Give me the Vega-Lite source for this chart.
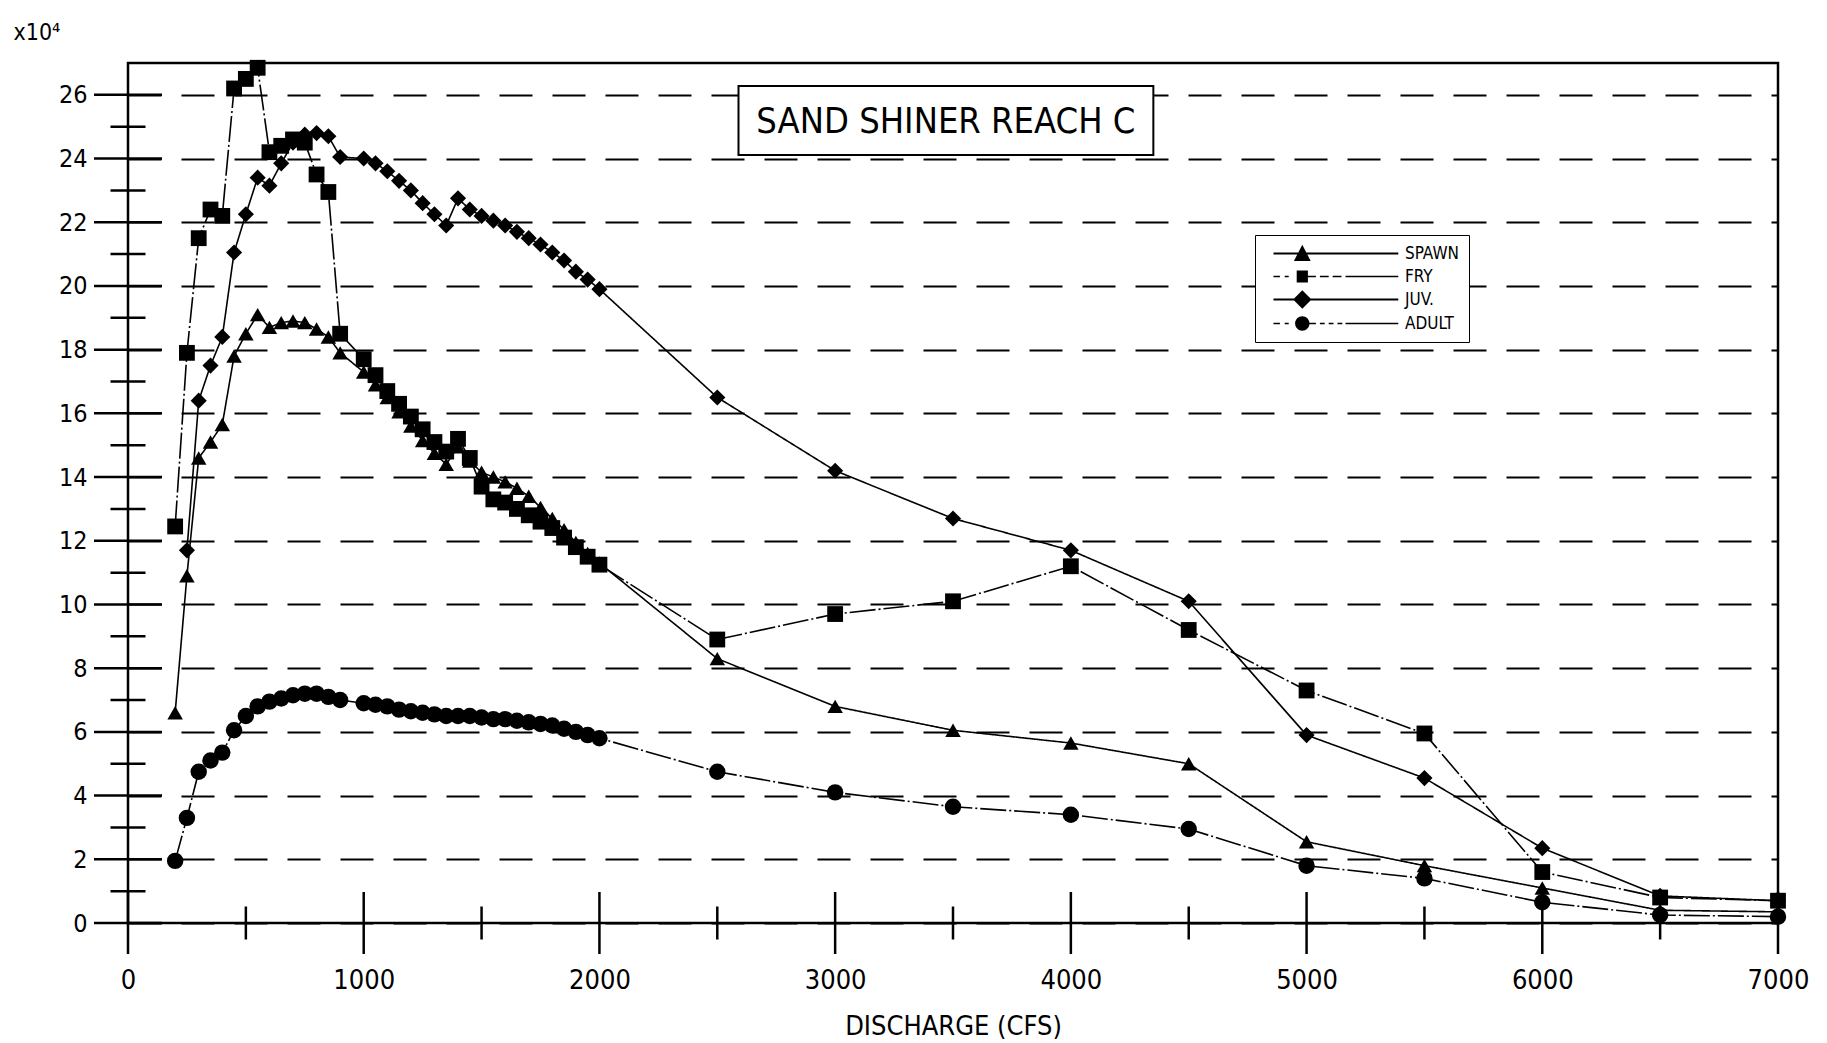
{
  "$schema": "https://vega.github.io/schema/vega-lite/v6.json",
  "width": 1650,
  "height": 860,
  "autosize": {"type": "none"},
  "padding": {"left": 128, "top": 63, "right": 49, "bottom": 120},
  "background": "white",
  "config": {
    "view": {"stroke": "black", "strokeWidth": 2.5},
    "font": "DejaVu Sans Condensed, Liberation Sans Narrow, Liberation Sans, sans-serif"
  },
  "datasets": {
    "ymajor": [{"t": 0}, {"t": 2}, {"t": 4}, {"t": 6}, {"t": 8}, {"t": 10}, {"t": 12}, {"t": 14}, {"t": 16}, {"t": 18}, {"t": 20}, {"t": 22}, {"t": 24}, {"t": 26}],
    "yminor": [{"t": 1}, {"t": 3}, {"t": 5}, {"t": 7}, {"t": 9}, {"t": 11}, {"t": 13}, {"t": 15}, {"t": 17}, {"t": 19}, {"t": 21}, {"t": 23}, {"t": 25}],
    "xmajor": [{"t": 0}, {"t": 1000}, {"t": 2000}, {"t": 3000}, {"t": 4000}, {"t": 5000}, {"t": 6000}, {"t": 7000}],
    "xminor": [{"t": 500}, {"t": 1500}, {"t": 2500}, {"t": 3500}, {"t": 4500}, {"t": 5500}, {"t": 6500}],
    "fish": [
      {"series": "SPAWN", "q": 200, "v": 6.6},
      {"series": "SPAWN", "q": 250, "v": 10.9},
      {"series": "SPAWN", "q": 300, "v": 14.6},
      {"series": "SPAWN", "q": 350, "v": 15.1},
      {"series": "SPAWN", "q": 400, "v": 15.65},
      {"series": "SPAWN", "q": 450, "v": 17.8},
      {"series": "SPAWN", "q": 500, "v": 18.5},
      {"series": "SPAWN", "q": 550, "v": 19.1},
      {"series": "SPAWN", "q": 600, "v": 18.7},
      {"series": "SPAWN", "q": 650, "v": 18.85},
      {"series": "SPAWN", "q": 700, "v": 18.9},
      {"series": "SPAWN", "q": 750, "v": 18.85},
      {"series": "SPAWN", "q": 800, "v": 18.65},
      {"series": "SPAWN", "q": 850, "v": 18.4},
      {"series": "SPAWN", "q": 900, "v": 17.9},
      {"series": "SPAWN", "q": 1000, "v": 17.3},
      {"series": "SPAWN", "q": 1050, "v": 16.9},
      {"series": "SPAWN", "q": 1100, "v": 16.5},
      {"series": "SPAWN", "q": 1150, "v": 16.05},
      {"series": "SPAWN", "q": 1200, "v": 15.6},
      {"series": "SPAWN", "q": 1250, "v": 15.15},
      {"series": "SPAWN", "q": 1300, "v": 14.75},
      {"series": "SPAWN", "q": 1350, "v": 14.4},
      {"series": "SPAWN", "q": 1400, "v": 14.95},
      {"series": "SPAWN", "q": 1450, "v": 14.5},
      {"series": "SPAWN", "q": 1500, "v": 14.15},
      {"series": "SPAWN", "q": 1550, "v": 14.0},
      {"series": "SPAWN", "q": 1600, "v": 13.85},
      {"series": "SPAWN", "q": 1650, "v": 13.65},
      {"series": "SPAWN", "q": 1700, "v": 13.4},
      {"series": "SPAWN", "q": 1750, "v": 13.05},
      {"series": "SPAWN", "q": 1800, "v": 12.7},
      {"series": "SPAWN", "q": 1850, "v": 12.35},
      {"series": "SPAWN", "q": 1900, "v": 11.95},
      {"series": "SPAWN", "q": 1950, "v": 11.6},
      {"series": "SPAWN", "q": 2000, "v": 11.3},
      {"series": "SPAWN", "q": 2500, "v": 8.3},
      {"series": "SPAWN", "q": 3000, "v": 6.8},
      {"series": "SPAWN", "q": 3500, "v": 6.05},
      {"series": "SPAWN", "q": 4000, "v": 5.65},
      {"series": "SPAWN", "q": 4500, "v": 5.0},
      {"series": "SPAWN", "q": 5000, "v": 2.55},
      {"series": "SPAWN", "q": 5500, "v": 1.8},
      {"series": "SPAWN", "q": 6000, "v": 1.1},
      {"series": "SPAWN", "q": 6500, "v": 0.4},
      {"series": "SPAWN", "q": 7000, "v": 0.35},
      {"series": "FRY", "q": 200, "v": 12.45},
      {"series": "FRY", "q": 250, "v": 17.9},
      {"series": "FRY", "q": 300, "v": 21.5},
      {"series": "FRY", "q": 350, "v": 22.4},
      {"series": "FRY", "q": 400, "v": 22.2},
      {"series": "FRY", "q": 450, "v": 26.2},
      {"series": "FRY", "q": 500, "v": 26.5},
      {"series": "FRY", "q": 550, "v": 26.85},
      {"series": "FRY", "q": 600, "v": 24.2},
      {"series": "FRY", "q": 650, "v": 24.4},
      {"series": "FRY", "q": 700, "v": 24.6},
      {"series": "FRY", "q": 750, "v": 24.5},
      {"series": "FRY", "q": 800, "v": 23.5},
      {"series": "FRY", "q": 850, "v": 22.95},
      {"series": "FRY", "q": 900, "v": 18.5},
      {"series": "FRY", "q": 1000, "v": 17.7},
      {"series": "FRY", "q": 1050, "v": 17.2},
      {"series": "FRY", "q": 1100, "v": 16.7},
      {"series": "FRY", "q": 1150, "v": 16.3},
      {"series": "FRY", "q": 1200, "v": 15.9},
      {"series": "FRY", "q": 1250, "v": 15.5},
      {"series": "FRY", "q": 1300, "v": 15.1},
      {"series": "FRY", "q": 1350, "v": 14.8},
      {"series": "FRY", "q": 1400, "v": 15.2},
      {"series": "FRY", "q": 1450, "v": 14.6},
      {"series": "FRY", "q": 1500, "v": 13.7},
      {"series": "FRY", "q": 1550, "v": 13.3},
      {"series": "FRY", "q": 1600, "v": 13.2},
      {"series": "FRY", "q": 1650, "v": 13.0},
      {"series": "FRY", "q": 1700, "v": 12.8},
      {"series": "FRY", "q": 1750, "v": 12.6},
      {"series": "FRY", "q": 1800, "v": 12.4},
      {"series": "FRY", "q": 1850, "v": 12.1},
      {"series": "FRY", "q": 1900, "v": 11.8},
      {"series": "FRY", "q": 1950, "v": 11.5},
      {"series": "FRY", "q": 2000, "v": 11.25},
      {"series": "FRY", "q": 2500, "v": 8.9},
      {"series": "FRY", "q": 3000, "v": 9.7},
      {"series": "FRY", "q": 3500, "v": 10.1},
      {"series": "FRY", "q": 4000, "v": 11.2},
      {"series": "FRY", "q": 4500, "v": 9.2},
      {"series": "FRY", "q": 5000, "v": 7.3},
      {"series": "FRY", "q": 5500, "v": 5.95},
      {"series": "FRY", "q": 6000, "v": 1.6},
      {"series": "FRY", "q": 6500, "v": 0.8},
      {"series": "FRY", "q": 7000, "v": 0.7},
      {"series": "JUV.", "q": 250, "v": 11.7},
      {"series": "JUV.", "q": 300, "v": 16.4},
      {"series": "JUV.", "q": 350, "v": 17.5},
      {"series": "JUV.", "q": 400, "v": 18.4},
      {"series": "JUV.", "q": 450, "v": 21.05},
      {"series": "JUV.", "q": 500, "v": 22.25},
      {"series": "JUV.", "q": 550, "v": 23.4},
      {"series": "JUV.", "q": 600, "v": 23.15},
      {"series": "JUV.", "q": 650, "v": 23.85},
      {"series": "JUV.", "q": 700, "v": 24.5},
      {"series": "JUV.", "q": 750, "v": 24.75},
      {"series": "JUV.", "q": 800, "v": 24.8},
      {"series": "JUV.", "q": 850, "v": 24.7},
      {"series": "JUV.", "q": 900, "v": 24.05},
      {"series": "JUV.", "q": 1000, "v": 24.0},
      {"series": "JUV.", "q": 1050, "v": 23.85},
      {"series": "JUV.", "q": 1100, "v": 23.6},
      {"series": "JUV.", "q": 1150, "v": 23.3},
      {"series": "JUV.", "q": 1200, "v": 23.0},
      {"series": "JUV.", "q": 1250, "v": 22.6},
      {"series": "JUV.", "q": 1300, "v": 22.25},
      {"series": "JUV.", "q": 1350, "v": 21.9},
      {"series": "JUV.", "q": 1400, "v": 22.75},
      {"series": "JUV.", "q": 1450, "v": 22.4},
      {"series": "JUV.", "q": 1500, "v": 22.2},
      {"series": "JUV.", "q": 1550, "v": 22.05},
      {"series": "JUV.", "q": 1600, "v": 21.9},
      {"series": "JUV.", "q": 1650, "v": 21.7},
      {"series": "JUV.", "q": 1700, "v": 21.5},
      {"series": "JUV.", "q": 1750, "v": 21.3},
      {"series": "JUV.", "q": 1800, "v": 21.05},
      {"series": "JUV.", "q": 1850, "v": 20.8},
      {"series": "JUV.", "q": 1900, "v": 20.45},
      {"series": "JUV.", "q": 1950, "v": 20.2},
      {"series": "JUV.", "q": 2000, "v": 19.9},
      {"series": "JUV.", "q": 2500, "v": 16.5},
      {"series": "JUV.", "q": 3000, "v": 14.2},
      {"series": "JUV.", "q": 3500, "v": 12.7},
      {"series": "JUV.", "q": 4000, "v": 11.7},
      {"series": "JUV.", "q": 4500, "v": 10.1},
      {"series": "JUV.", "q": 5000, "v": 5.9},
      {"series": "JUV.", "q": 5500, "v": 4.55},
      {"series": "JUV.", "q": 6000, "v": 2.35},
      {"series": "JUV.", "q": 6500, "v": 0.85},
      {"series": "JUV.", "q": 7000, "v": 0.7},
      {"series": "ADULT", "q": 200, "v": 1.95},
      {"series": "ADULT", "q": 250, "v": 3.3},
      {"series": "ADULT", "q": 300, "v": 4.75},
      {"series": "ADULT", "q": 350, "v": 5.1},
      {"series": "ADULT", "q": 400, "v": 5.35},
      {"series": "ADULT", "q": 450, "v": 6.05},
      {"series": "ADULT", "q": 500, "v": 6.5},
      {"series": "ADULT", "q": 550, "v": 6.8},
      {"series": "ADULT", "q": 600, "v": 6.95},
      {"series": "ADULT", "q": 650, "v": 7.05},
      {"series": "ADULT", "q": 700, "v": 7.15},
      {"series": "ADULT", "q": 750, "v": 7.2},
      {"series": "ADULT", "q": 800, "v": 7.2},
      {"series": "ADULT", "q": 850, "v": 7.1},
      {"series": "ADULT", "q": 900, "v": 7.0},
      {"series": "ADULT", "q": 1000, "v": 6.9},
      {"series": "ADULT", "q": 1050, "v": 6.85},
      {"series": "ADULT", "q": 1100, "v": 6.8},
      {"series": "ADULT", "q": 1150, "v": 6.7},
      {"series": "ADULT", "q": 1200, "v": 6.65},
      {"series": "ADULT", "q": 1250, "v": 6.6},
      {"series": "ADULT", "q": 1300, "v": 6.55},
      {"series": "ADULT", "q": 1350, "v": 6.5},
      {"series": "ADULT", "q": 1400, "v": 6.5},
      {"series": "ADULT", "q": 1450, "v": 6.5},
      {"series": "ADULT", "q": 1500, "v": 6.45},
      {"series": "ADULT", "q": 1550, "v": 6.4},
      {"series": "ADULT", "q": 1600, "v": 6.4},
      {"series": "ADULT", "q": 1650, "v": 6.35},
      {"series": "ADULT", "q": 1700, "v": 6.3},
      {"series": "ADULT", "q": 1750, "v": 6.25},
      {"series": "ADULT", "q": 1800, "v": 6.2},
      {"series": "ADULT", "q": 1850, "v": 6.1},
      {"series": "ADULT", "q": 1900, "v": 6.0},
      {"series": "ADULT", "q": 1950, "v": 5.9},
      {"series": "ADULT", "q": 2000, "v": 5.8},
      {"series": "ADULT", "q": 2500, "v": 4.75},
      {"series": "ADULT", "q": 3000, "v": 4.1},
      {"series": "ADULT", "q": 3500, "v": 3.65},
      {"series": "ADULT", "q": 4000, "v": 3.4},
      {"series": "ADULT", "q": 4500, "v": 2.95},
      {"series": "ADULT", "q": 5000, "v": 1.8},
      {"series": "ADULT", "q": 5500, "v": 1.4},
      {"series": "ADULT", "q": 6000, "v": 0.65},
      {"series": "ADULT", "q": 6500, "v": 0.25},
      {"series": "ADULT", "q": 7000, "v": 0.2}
    ]
  },
  "layer": [
    {
      "data": {"name": "fish"},
      "mark": {"type": "line", "color": "black", "strokeWidth": 1.6},
      "encoding": {
        "x": {
          "field": "q", "type": "quantitative", "title": "DISCHARGE (CFS)",
          "scale": {"domain": [0, 7000], "nice": false, "zero": false},
          "axis": {
            "values": [0, 1000, 2000, 3000, 4000, 5000, 6000, 7000], "format": "d",
            "ticks": false, "domain": false, "grid": false,
            "labelFontSize": 27, "labelPadding": 44, "labelFlush": false,
            "labelOverlap": false, "labelColor": "black",
            "titleFontSize": 27, "titleFontWeight": "normal", "titleColor": "black",
            "titleY": 111, "titleBaseline": "alphabetic"
          }
        },
        "y": {
          "field": "v", "type": "quantitative", "title": "x10⁴",
          "scale": {"domain": [0, 27], "nice": false, "zero": false},
          "axis": {
            "values": [0, 2, 4, 6, 8, 10, 12, 14, 16, 18, 20, 22, 24, 26],
            "ticks": false, "domain": false,
            "grid": true, "gridColor": "black", "gridWidth": 2, "gridOpacity": 1, "gridDash": [33, 20],
            "labelFontSize": 25, "labelPadding": 41, "labelColor": "black",
            "titleAngle": 0, "titleX": -115, "titleY": -24, "titleAlign": "left",
            "titleBaseline": "alphabetic", "titleFontSize": 23, "titleFontWeight": "normal", "titleColor": "black"
          }
        },
        "strokeDash": {
          "field": "series", "type": "nominal", "legend": null,
          "scale": {"domain": ["SPAWN", "FRY", "JUV.", "ADULT"], "range": [[1, 0], [26, 3, 2, 3], [1, 0], [26, 3, 2, 3]]}
        }
      }
    },
    {
      "data": {"name": "ymajor"},
      "mark": {"type": "tick", "orient": "horizontal", "size": 68, "thickness": 2.5, "color": "black", "opacity": 1},
      "encoding": {
        "x": {"datum": 0, "type": "quantitative", "title": "DISCHARGE (CFS)", "scale": {"domain": [0, 7000], "nice": false, "zero": false}},
        "y": {"field": "t", "type": "quantitative", "title": "x10⁴", "scale": {"domain": [0, 27], "nice": false, "zero": false}}
      }
    },
    {
      "data": {"name": "yminor"},
      "mark": {"type": "tick", "orient": "horizontal", "size": 35, "thickness": 2.5, "color": "black", "opacity": 1},
      "encoding": {
        "x": {"datum": 0, "type": "quantitative", "title": "DISCHARGE (CFS)", "scale": {"domain": [0, 7000], "nice": false, "zero": false}},
        "y": {"field": "t", "type": "quantitative", "title": "x10⁴", "scale": {"domain": [0, 27], "nice": false, "zero": false}}
      }
    },
    {
      "data": {"name": "xmajor"},
      "mark": {"type": "tick", "orient": "vertical", "size": 62, "thickness": 2.5, "color": "black", "opacity": 1},
      "encoding": {
        "x": {"field": "t", "type": "quantitative", "title": "DISCHARGE (CFS)", "scale": {"domain": [0, 7000], "nice": false, "zero": false}},
        "y": {"datum": 0, "type": "quantitative", "title": "x10⁴", "scale": {"domain": [0, 27], "nice": false, "zero": false}}
      }
    },
    {
      "data": {"name": "xminor"},
      "mark": {"type": "tick", "orient": "vertical", "size": 33, "thickness": 2.5, "color": "black", "opacity": 1},
      "encoding": {
        "x": {"field": "t", "type": "quantitative", "title": "DISCHARGE (CFS)", "scale": {"domain": [0, 7000], "nice": false, "zero": false}},
        "y": {"datum": 0, "type": "quantitative", "title": "x10⁴", "scale": {"domain": [0, 27], "nice": false, "zero": false}}
      }
    },
    {
      "data": {"values": [{"label": "SAND SHINER REACH C"}]},
      "mark": {"type": "rect", "fill": "white", "stroke": "black", "strokeWidth": 2},
      "encoding": {
        "x": {"datum": 2590, "type": "quantitative", "title": "DISCHARGE (CFS)", "scale": {"domain": [0, 7000], "nice": false, "zero": false}},
        "x2": {"datum": 4350},
        "y": {"datum": 26.28, "type": "quantitative", "title": "x10⁴", "scale": {"domain": [0, 27], "nice": false, "zero": false}},
        "y2": {"datum": 24.11}
      }
    },
    {
      "data": {"values": [{"label": "SAND SHINER REACH C"}]},
      "mark": {"type": "text", "fontSize": 36, "color": "black", "align": "center", "baseline": "middle"},
      "encoding": {
        "x": {"datum": 3470, "type": "quantitative", "title": "DISCHARGE (CFS)", "scale": {"domain": [0, 7000], "nice": false, "zero": false}},
        "y": {"datum": 25.15, "type": "quantitative", "title": "x10⁴", "scale": {"domain": [0, 27], "nice": false, "zero": false}},
        "text": {"field": "label"}
      }
    },
    {
      "data": {"name": "fish"},
      "mark": {"type": "point", "filled": true, "color": "black", "opacity": 1},
      "encoding": {
        "x": {"field": "q", "type": "quantitative", "title": "DISCHARGE (CFS)", "scale": {"domain": [0, 7000], "nice": false, "zero": false}},
        "y": {"field": "v", "type": "quantitative", "title": "x10⁴", "scale": {"domain": [0, 27], "nice": false, "zero": false}},
        "shape": {
          "field": "series", "type": "nominal", "legend": null,
          "scale": {"domain": ["SPAWN", "FRY", "JUV.", "ADULT"], "range": ["triangle-up", "square", "diamond", "circle"]}
        },
        "size": {
          "field": "series", "type": "nominal", "legend": null,
          "scale": {"domain": ["SPAWN", "FRY", "JUV.", "ADULT"], "range": [240, 270, 320, 200]}
        }
      }
    },
    {
      "data": {"name": "fish"},
      "transform": [{"filter": "false"}],
      "mark": {"type": "point", "filled": true, "color": "black", "opacity": 1},
      "encoding": {
        "x": {"field": "q", "type": "quantitative", "title": "DISCHARGE (CFS)", "scale": {"domain": [0, 7000], "nice": false, "zero": false}},
        "y": {"field": "v", "type": "quantitative", "title": "x10⁴", "scale": {"domain": [0, 27], "nice": false, "zero": false}},
        "shape": {
          "field": "series", "type": "nominal",
          "scale": {
            "domain": ["SPAWN", "FRY", "JUV.", "ADULT"],
            "range": [
              "M0,-0.13H15.6V0.13H0Z M2.55,0.95L3.6,-1.1L4.65,0.95Z",
              "M0,-0.1H0.8V0.1H0Z M1.4,-0.1H1.9V0.1H1.4Z M2.9,-0.75H4.3V0.75H2.9Z M4.3,-0.1H5.3V0.1H4.3Z M5.8,-0.1H6.9V0.1H5.8Z M7.4,-0.1H8.5V0.1H7.4Z M9,-0.1H15.6V0.1H9Z",
              "M0,-0.13H15.6V0.13H0Z M2.45,0L3.6,-1.15L4.75,0L3.6,1.15Z",
              "M0,-0.1H0.8V0.1H0Z M1.4,-0.1H1.9V0.1H1.4Z M2.7,0A0.9,0.9 0 1,1 4.5,0A0.9,0.9 0 1,1 2.7,0Z M4.5,-0.1H5.3V0.1H4.5Z M5.8,-0.1H6.4V0.1H5.8Z M6.9,-0.1H7.5V0.1H6.9Z M8,-0.1H8.6V0.1H8Z M9,-0.1H15.6V0.1H9Z"
            ]
          },
          "legend": {
            "orient": "none", "legendX": 1127, "legendY": 172, "title": null,
            "symbolSize": 256, "symbolStrokeWidth": 0, "symbolFillColor": "black",
            "labelFontSize": 17, "labelOffset": 123, "labelColor": "black",
            "rowPadding": 5, "padding": 10,
            "strokeColor": "black", "fillColor": "white"
          }
        }
      }
    }
  ],
  "resolve": {"scale": {"shape": "independent"}}
}
